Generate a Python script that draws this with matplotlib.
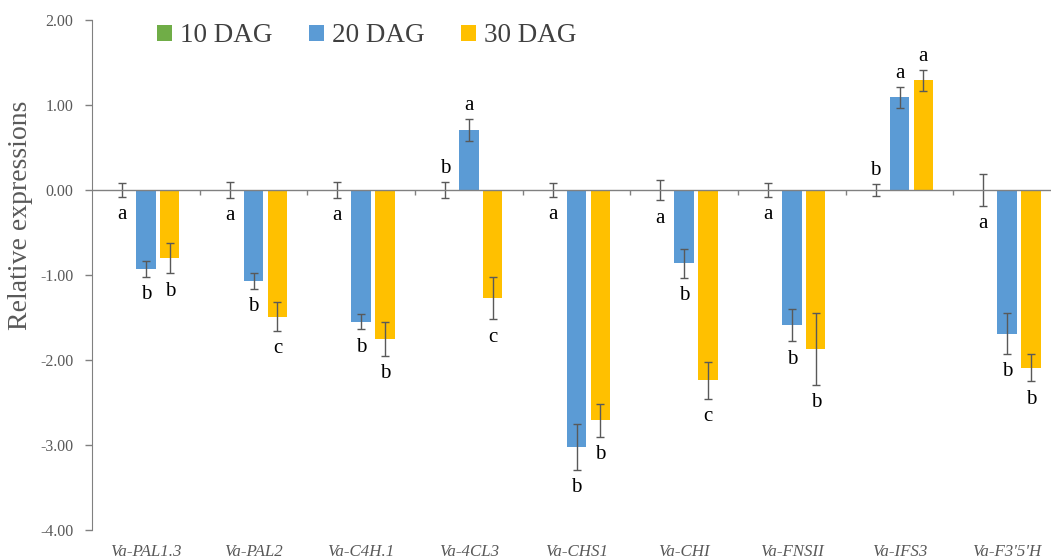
import matplotlib.pyplot as plt
import numpy as np

plt.rcParams['font.family'] = ['Liberation Serif', 'DejaVu Serif']

genes = ["Va-PAL1.3", "Va-PAL2", "Va-C4H.1", "Va-4CL3", "Va-CHS1",
         "Va-CHI", "Va-FNSII", "Va-IFS3", "Va-F3'5'H"]
series = ["10 DAG", "20 DAG", "30 DAG"]

dag10 = [0.00, 0.00, 0.00, 0.00, 0.00, 0.00, 0.00, 0.00, 0.00]
dag20 = [-0.93, -1.07, -1.55, 0.71, -3.02, -0.86, -1.59, 1.09, -1.69]
dag30 = [-0.80, -1.49, -1.75, -1.27, -2.71, -2.24, -1.87, 1.29, -2.09]

err10 = [0.08, 0.09, 0.09, 0.09, 0.08, 0.12, 0.08, 0.07, 0.19]
err20 = [0.09, 0.09, 0.09, 0.13, 0.27, 0.17, 0.19, 0.12, 0.24]
err30 = [0.18, 0.17, 0.20, 0.25, 0.19, 0.22, 0.42, 0.12, 0.16]

let10 = ["a", "a", "a", "b", "a", "a", "a", "b", "a"]
let20 = ["b", "b", "b", "a", "b", "b", "b", "a", "b"]
let30 = ["b", "c", "b", "c", "b", "c", "b", "a", "b"]
# which side the 10 DAG letter sits on (1 above, -1 below)
side10 = [-1, -1, -1, 1, -1, -1, -1, 1, -1]

colors = ["#70AD47", "#5B9BD5", "#FFC000"]
gray = "#595959"

fig = plt.figure(figsize=(10.51, 5.58), dpi=100)
ax = fig.add_axes([92 / 1051, 28 / 558, 969 / 1051, 510 / 558])

x = np.arange(len(genes))
offs = [-0.222, 0.0, 0.222]
width = 0.18
vals = [dag10, dag20, dag30]
errs = [err10, err20, err30]
lets = [let10, let20, let30]

for i in range(3):
    ax.bar(x + offs[i], vals[i], width, color=colors[i], label=series[i],
           yerr=errs[i], error_kw=dict(ecolor=gray, elinewidth=1, capsize=3, capthick=1),
           zorder=2)
    for j in range(len(genes)):
        v, e = vals[i][j], errs[i][j]
        if i == 0:
            s = side10[j]
        else:
            s = 1 if v > 0 else -1
        gap = 0.16 if s > 0 else 0.21
        ax.text(x[j] + offs[i], v + s * (e + gap), lets[i][j], ha="center",
                va="center", fontsize=15, color="black")

# zero line with category tick marks
ax.axhline(0, color="#808080", lw=1, zorder=3)
bounds = np.arange(len(genes) + 1) - 0.5
ax.vlines(bounds[1:], -0.06, 0, color="#808080", lw=1, zorder=3)

ax.set_xlim(-0.5, len(genes) - 0.5)
ax.set_ylim(-4, 2)
ax.set_yticks(np.arange(-4, 2.01, 1))
ax.set_yticklabels(["%.2f" % t for t in np.arange(-4, 2.01, 1)])
ax.set_xticks(x)
ax.set_xticklabels(genes, style="italic")
ax.tick_params(axis="x", length=0, pad=10, labelsize=12.2, labelcolor=gray)
ax.tick_params(axis="y", length=5, width=1, color="#808080", pad=8.5,
               labelsize=11.5, labelcolor=gray)

for sp in ["top", "right", "bottom"]:
    ax.spines[sp].set_visible(False)
ax.spines["left"].set_color("#808080")

ax.set_ylabel("Relative expressions", fontsize=20, color=gray)
ax.yaxis.set_label_coords(-0.061, 0.618)

leg = ax.legend(loc="upper left", bbox_to_anchor=(0.042, 1.041), ncol=3, frameon=False,
                fontsize=19.5, handlelength=0.55, handleheight=0.55, handletextpad=0.3,
                columnspacing=1.35, labelcolor="#404040")

fig.savefig("out.png", dpi=100)
